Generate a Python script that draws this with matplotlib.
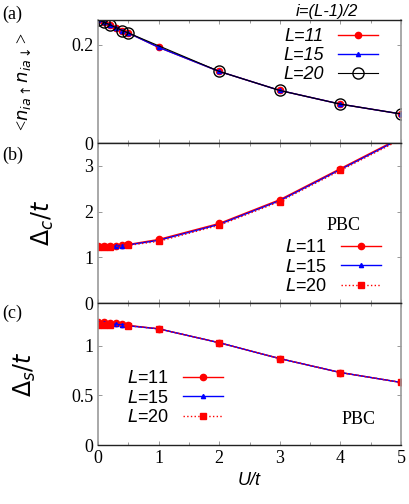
import numpy as np
import matplotlib.pyplot as plt

plt.rcParams['font.family'] = 'serif'
plt.rcParams['font.serif'] = ['Liberation Serif', 'DejaVu Serif']
plt.rcParams['mathtext.fontset'] = 'dejavusans'

# (a) double occupancy
U_a = [0, 0.1, 0.2, 0.3, 0.4, 0.5, 1, 2, 3, 4, 5]
d_11 = [0.250, 0.2455, 0.240, 0.2347, 0.2286, 0.2237, 0.1945, 0.1455, 0.1068, 0.079, 0.059]
d_15 = [0.250, 0.2455, 0.240, 0.2347, 0.2286, 0.2237, 0.1945, 0.1455, 0.1068, 0.079, 0.059]
U_a20 = [0, 0.1, 0.2, 0.4, 0.5, 2, 3, 4, 5]
d_20 = [0.250, 0.2455, 0.240, 0.2286, 0.2237, 0.1455, 0.1068, 0.079, 0.059]

# (b) charge gap
U_b = [0, 0.1, 0.2, 0.3, 0.4, 0.5, 1, 2, 3, 4, 5]
dc_11 = [1.24, 1.24, 1.245, 1.255, 1.265, 1.28, 1.39, 1.74, 2.26, 2.94, 3.62]
dc_15 = [1.23, 1.23, 1.235, 1.245, 1.255, 1.27, 1.37, 1.72, 2.24, 2.92, 3.60]
U_b20 = [0, 0.1, 0.2, 0.5, 1, 2, 3, 4, 5]
dc_20 = [1.22, 1.225, 1.23, 1.26, 1.35, 1.70, 2.22, 2.90, 3.58]

# (c) spin gap
U_c = [0, 0.1, 0.2, 0.3, 0.4, 0.5, 1, 2, 3, 4, 5]
ds_11 = [1.24, 1.235, 1.23, 1.225, 1.215, 1.205, 1.17, 1.03, 0.87, 0.73, 0.63]
ds_15 = [1.23, 1.225, 1.22, 1.215, 1.21, 1.20, 1.17, 1.03, 0.87, 0.73, 0.63]
U_c20 = [0, 0.1, 0.2, 0.5, 1, 2, 3, 4, 5]
ds_20 = [1.21, 1.21, 1.205, 1.20, 1.17, 1.03, 0.87, 0.73, 0.63]

sans = 'Liberation Sans'

fig = plt.figure(figsize=(4.09, 5.04), dpi=100)
L, W = 98 / 409, 303 / 409
ax_a = fig.add_axes([L, (504 - 143) / 504, W, 123 / 504])
ax_b = fig.add_axes([L, (504 - 303) / 504, W, 160 / 504])
ax_c = fig.add_axes([L, (504 - 445) / 504, W, 142 / 504])


def style(ax):
    ax.set_xlim(0, 5)
    ax.set_xticks(range(6))
    ax.set_xticks(np.arange(0.5, 5, 1), minor=True)
    ax.tick_params(which='both', direction='in', top=True, right=True, length=3, width=0.6,
                   labelsize=13, colors='#888888', labelcolor='black')
    ax.tick_params(which='minor', length=2)
    for s in ['left', 'right']:
        ax.spines[s].set_color('#999999')
        ax.spines[s].set_linewidth(1.2)
    for s in ['top', 'bottom']:
        ax.spines[s].set_color('#222222')
        ax.spines[s].set_linewidth(1.0)


# panel (a)
ax_a.plot(U_a, d_11, '-o', color='red', ms=4.5, lw=1, label='L=11')
ax_a.plot(U_a, d_15, '-^', color='blue', ms=3, lw=1, label='L=15')
ax_a.plot(U_a20, d_20, '-o', color='black', mfc='none', ms=8, lw=0.8, label='L=20')
style(ax_a)
ax_a.set_ylim(0, 0.25)
ax_a.set_yticks([0, 0.2])
ax_a.set_yticklabels(['0', '0.2'])
ax_a.set_xticklabels([])
ax_a.set_ylabel(r'<$n_{ia\uparrow}n_{ia\downarrow}$>', fontsize=13, labelpad=27)
ax_a.legend(loc='upper right', bbox_to_anchor=(0.96, 1.02), frameon=False, markerfirst=False,
            handlelength=2.2, labelspacing=0.1, borderpad=0.1,
            prop={'family': sans, 'style': 'italic', 'size': 13})
ax_a.text(0.86, 1.01, 'i=(L-1)/2', transform=ax_a.transAxes, ha='right', va='bottom',
          fontfamily=sans, style='italic', fontsize=12)
fig.text(0.005, 1 - 14 / 504, '(a)', fontsize=13, va='center')

# panel (b)
ax_b.plot(U_b, dc_11, '-o', color='red', ms=4.5, lw=1, label='$L$=11')
ax_b.plot(U_b, dc_15, '-^', color='blue', ms=3, lw=1, label='$L$=15')
ax_b.plot(U_b20, dc_20, ':s', color='red', ms=5, lw=1, label='$L$=20')
style(ax_b)
ax_b.set_ylim(0, 3.5)
ax_b.set_yticks([0, 1, 2, 3])
ax_b.set_yticklabels(['0', '1', '2', '3'])
ax_b.set_xticklabels([])
ax_b.set_ylabel(r'$\Delta_c/t$', fontsize=17, labelpad=20)
ax_b.text(0.81, 0.455, 'PBC', transform=ax_b.transAxes, ha='center', fontsize=13)
ax_b.legend(loc='lower right', bbox_to_anchor=(0.97, -0.02), frameon=False, markerfirst=False,
            handlelength=2.2, labelspacing=0.15, borderpad=0.1,
            prop={'family': sans, 'size': 13})
fig.text(0.005, 1 - 155 / 504, '(b)', fontsize=13, va='center')

# panel (c)
ax_c.plot(U_c, ds_11, '-o', color='red', ms=4.5, lw=1, label='$L$=11')
ax_c.plot(U_c, ds_15, '-^', color='blue', ms=3, lw=1, label='$L$=15')
ax_c.plot(U_c20, ds_20, ':s', color='red', ms=5, lw=1, label='$L$=20')
style(ax_c)
ax_c.set_ylim(0, 1.43)
ax_c.set_yticks([0, 0.5, 1])
ax_c.set_yticklabels(['0', '0.5', '1'])
ax_c.set_xticklabels([str(i) for i in range(6)])
ax_c.set_ylabel(r'$\Delta_s/t$', fontsize=17, labelpad=24)
ax_c.set_xlabel('U/t', fontfamily=sans, style='italic', fontsize=13)
ax_c.text(0.86, 0.15, 'PBC', transform=ax_c.transAxes, ha='center', fontsize=13)
ax_c.legend(loc='center left', bbox_to_anchor=(0.06, 0.33), frameon=False, markerfirst=False,
            handlelength=2.2, labelspacing=0.15, borderpad=0.1,
            prop={'family': sans, 'size': 13})
fig.text(0.005, 1 - 313 / 504, '(c)', fontsize=13, va='center')

fig.savefig('out.png', dpi=100)
